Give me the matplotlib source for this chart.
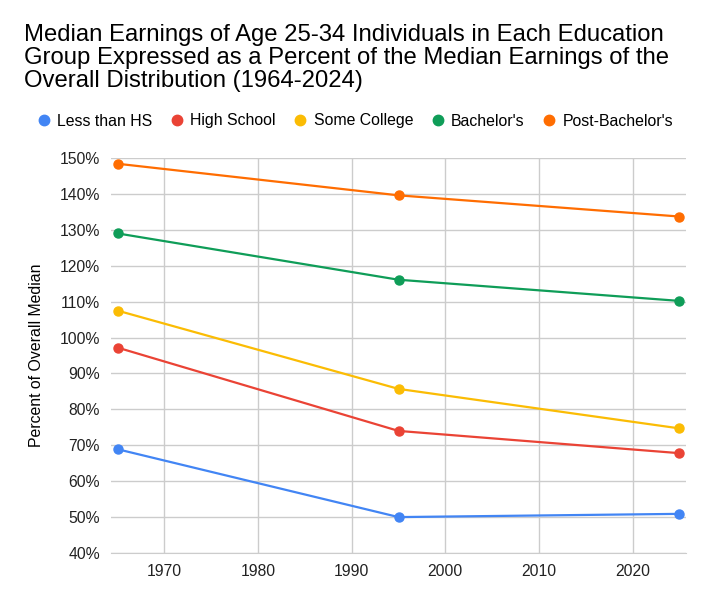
import matplotlib
matplotlib.use("Agg")
import matplotlib.pyplot as plt
from matplotlib.lines import Line2D
from matplotlib.ticker import FuncFormatter

plt.rcParams['font.family'] = ['Liberation Sans', 'DejaVu Sans']

# data
years = [1965, 1995, 2025]
series_names = ["Less than HS", "High School", "Some College", "Bachelor's", "Post-Bachelor's"]
less_than_hs = [68.9, 50.0, 50.9]
high_school = [97.2, 74.0, 67.8]
some_college = [107.5, 85.7, 74.7]
bachelors = [129.0, 116.1, 110.2]
post_bachelors = [148.4, 139.6, 133.7]
colors = ["#4285F4", "#EA4335", "#FBBC04", "#0F9D58", "#FF6D01"]

fig = plt.figure(figsize=(7.06, 6.01), dpi=100)
ax = fig.add_axes([111/706, 1-553/601, (686-111)/706, (553-158)/601])

all_series = [less_than_hs, high_school, some_college, bachelors, post_bachelors]
for vals, col, name in zip(all_series, colors, series_names):
    ax.plot(years, vals, color=col, lw=1.6, marker='o', ms=6.5, label=name,
            solid_capstyle='round', zorder=3)

ax.set_xlim(1964.3, 2025.7)
ax.set_ylim(40, 150)
ax.set_xticks([1970, 1980, 1990, 2000, 2010, 2020])
ax.set_yticks(range(40, 151, 10))
ax.yaxis.set_major_formatter(FuncFormatter(lambda v, p: f"{v:.0f}%"))
ax.grid(True, color="#cccccc", lw=1)
ax.set_axisbelow(True)
for s in ['top', 'right', 'left']:
    ax.spines[s].set_visible(False)
ax.spines['bottom'].set_color("#cccccc")
ax.tick_params(length=0, labelsize=11.3, pad=8, colors="#222222")
ax.set_ylabel("Percent of Overall Median", fontsize=11.4, labelpad=11)

fig.text(24/706, 1-24/601,
         "Median Earnings of Age 25-34 Individuals in Each Education\n"
         "Group Expressed as a Percent of the Median Earnings of the\n"
         "Overall Distribution (1964-2024)",
         fontsize=17.2, va='top', ha='left', linespacing=1.06)

handles = [Line2D([], [], color=c, marker='o', ls='none', ms=7.5) for c in colors]
fig.legend(handles, series_names, loc='center left', bbox_to_anchor=(34/706, 1-121/601),
           ncol=5, frameon=False, fontsize=11.4, handletextpad=0.25, columnspacing=0.95,
           handlelength=1.2, borderaxespad=0, borderpad=0)

fig.savefig("out.png", dpi=100)
